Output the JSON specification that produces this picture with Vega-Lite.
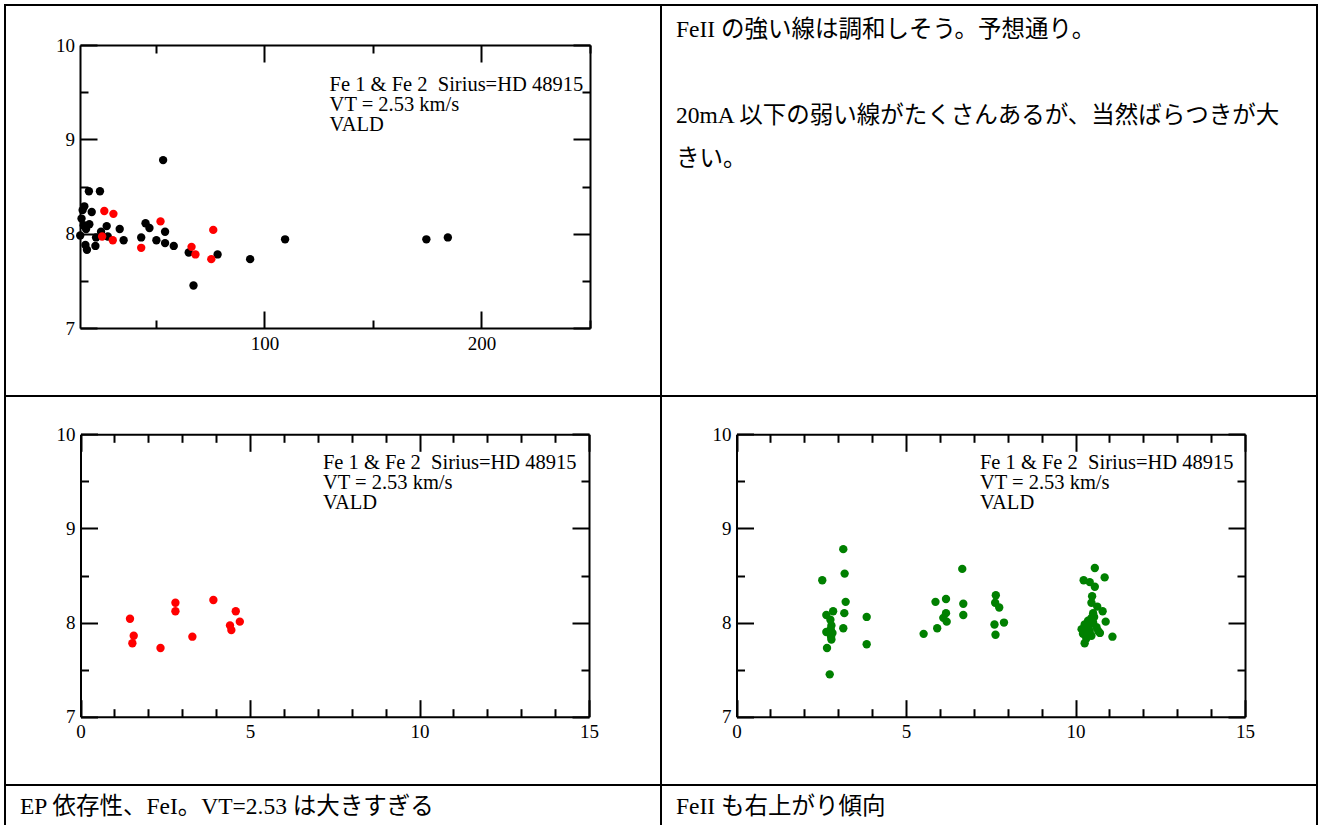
{
  "$schema": "https://vega.github.io/schema/vega-lite/v6.json",
  "padding": {"left": 4, "top": 4, "right": 0, "bottom": 0},
  "background": "white",
  "datasets": {
    "ew": [
      {"ew": 53.3, "abund": 8.78, "ion": "Fe 2"},
      {"ew": 19.1, "abund": 8.45, "ion": "Fe 2"},
      {"ew": 24.2, "abund": 8.45, "ion": "Fe 2"},
      {"ew": 17.0, "abund": 8.29, "ion": "Fe 2"},
      {"ew": 16.2, "abund": 8.25, "ion": "Fe 2"},
      {"ew": 20.4, "abund": 8.23, "ion": "Fe 2"},
      {"ew": 15.7, "abund": 8.16, "ion": "Fe 2"},
      {"ew": 19.3, "abund": 8.10, "ion": "Fe 2"},
      {"ew": 16.7, "abund": 8.09, "ion": "Fe 2"},
      {"ew": 17.8, "abund": 8.05, "ion": "Fe 2"},
      {"ew": 15.1, "abund": 7.98, "ion": "Fe 2"},
      {"ew": 27.3, "abund": 8.08, "ion": "Fe 2"},
      {"ew": 24.7, "abund": 8.02, "ion": "Fe 2"},
      {"ew": 33.3, "abund": 8.05, "ion": "Fe 2"},
      {"ew": 22.4, "abund": 7.96, "ion": "Fe 2"},
      {"ew": 27.8, "abund": 7.97, "ion": "Fe 2"},
      {"ew": 35.1, "abund": 7.93, "ion": "Fe 2"},
      {"ew": 22.1, "abund": 7.87, "ion": "Fe 2"},
      {"ew": 17.5, "abund": 7.88, "ion": "Fe 2"},
      {"ew": 18.2, "abund": 7.83, "ion": "Fe 2"},
      {"ew": 45.2, "abund": 8.11, "ion": "Fe 2"},
      {"ew": 47.0, "abund": 8.06, "ion": "Fe 2"},
      {"ew": 54.2, "abund": 8.02, "ion": "Fe 2"},
      {"ew": 43.2, "abund": 7.96, "ion": "Fe 2"},
      {"ew": 50.2, "abund": 7.93, "ion": "Fe 2"},
      {"ew": 54.2, "abund": 7.90, "ion": "Fe 2"},
      {"ew": 58.2, "abund": 7.87, "ion": "Fe 2"},
      {"ew": 65.1, "abund": 7.80, "ion": "Fe 2"},
      {"ew": 67.3, "abund": 7.45, "ion": "Fe 2"},
      {"ew": 78.4, "abund": 7.78, "ion": "Fe 2"},
      {"ew": 93.4, "abund": 7.73, "ion": "Fe 2"},
      {"ew": 109.5, "abund": 7.94, "ion": "Fe 2"},
      {"ew": 174.6, "abund": 7.94, "ion": "Fe 2"},
      {"ew": 184.5, "abund": 7.96, "ion": "Fe 2"},
      {"ew": 26.2, "abund": 8.24, "ion": "Fe 1"},
      {"ew": 30.4, "abund": 8.21, "ion": "Fe 1"},
      {"ew": 52.1, "abund": 8.13, "ion": "Fe 1"},
      {"ew": 25.2, "abund": 7.97, "ion": "Fe 1"},
      {"ew": 30.1, "abund": 7.93, "ion": "Fe 1"},
      {"ew": 43.2, "abund": 7.85, "ion": "Fe 1"},
      {"ew": 66.4, "abund": 7.86, "ion": "Fe 1"},
      {"ew": 68.2, "abund": 7.78, "ion": "Fe 1"},
      {"ew": 76.4, "abund": 8.04, "ion": "Fe 1"},
      {"ew": 75.5, "abund": 7.73, "ion": "Fe 1"}
    ],
    "fe1ep": [
      {"ep": 1.46, "abund": 8.04},
      {"ep": 1.57, "abund": 7.86},
      {"ep": 1.53, "abund": 7.78},
      {"ep": 2.36, "abund": 7.73},
      {"ep": 2.80, "abund": 8.21},
      {"ep": 2.80, "abund": 8.12},
      {"ep": 3.30, "abund": 7.85},
      {"ep": 3.92, "abund": 8.24},
      {"ep": 4.58, "abund": 8.12},
      {"ep": 4.41, "abund": 7.97},
      {"ep": 4.45, "abund": 7.92},
      {"ep": 4.70, "abund": 8.01}
    ],
    "fe2ep": [
      {"ep": 2.53, "abund": 8.45},
      {"ep": 3.15, "abund": 8.78},
      {"ep": 3.19, "abund": 8.52},
      {"ep": 3.22, "abund": 8.22},
      {"ep": 3.18, "abund": 8.10},
      {"ep": 3.15, "abund": 7.94},
      {"ep": 2.85, "abund": 8.12},
      {"ep": 2.65, "abund": 8.08},
      {"ep": 3.84, "abund": 8.06},
      {"ep": 3.84, "abund": 7.77},
      {"ep": 2.75, "abund": 7.45},
      {"ep": 2.77, "abund": 8.03},
      {"ep": 2.80, "abund": 7.97},
      {"ep": 2.65, "abund": 7.90},
      {"ep": 2.83, "abund": 7.89},
      {"ep": 2.80, "abund": 7.82},
      {"ep": 2.67, "abund": 7.73},
      {"ep": 2.78, "abund": 7.93},
      {"ep": 2.79, "abund": 7.85},
      {"ep": 5.52, "abund": 7.88},
      {"ep": 5.92, "abund": 7.94},
      {"ep": 5.87, "abund": 8.22},
      {"ep": 6.18, "abund": 8.25},
      {"ep": 6.18, "abund": 8.10},
      {"ep": 6.10, "abund": 8.05},
      {"ep": 6.20, "abund": 8.01},
      {"ep": 6.66, "abund": 8.57},
      {"ep": 6.69, "abund": 8.20},
      {"ep": 6.69, "abund": 8.08},
      {"ep": 7.65, "abund": 8.29},
      {"ep": 7.63, "abund": 8.21},
      {"ep": 7.75, "abund": 8.16},
      {"ep": 7.61, "abund": 7.98},
      {"ep": 7.89, "abund": 8.00},
      {"ep": 7.64, "abund": 7.87},
      {"ep": 10.57, "abund": 8.58},
      {"ep": 10.86, "abund": 8.48},
      {"ep": 10.24, "abund": 8.45},
      {"ep": 10.42, "abund": 8.43},
      {"ep": 10.57, "abund": 8.38},
      {"ep": 10.49, "abund": 8.28},
      {"ep": 10.47, "abund": 8.21},
      {"ep": 10.64, "abund": 8.17},
      {"ep": 10.80, "abund": 8.12},
      {"ep": 10.89, "abund": 8.01},
      {"ep": 11.09, "abund": 7.85},
      {"ep": 10.52, "abund": 8.10},
      {"ep": 10.47, "abund": 8.05},
      {"ep": 10.37, "abund": 8.02},
      {"ep": 10.27, "abund": 7.98},
      {"ep": 10.52, "abund": 8.00},
      {"ep": 10.62, "abund": 7.95},
      {"ep": 10.18, "abund": 7.93},
      {"ep": 10.42, "abund": 7.91},
      {"ep": 10.67, "abund": 7.91},
      {"ep": 10.22, "abund": 7.88},
      {"ep": 10.47, "abund": 7.86},
      {"ep": 10.32, "abund": 7.83},
      {"ep": 10.27, "abund": 7.78},
      {"ep": 10.72, "abund": 7.89},
      {"ep": 10.35, "abund": 7.95},
      {"ep": 10.55, "abund": 8.06},
      {"ep": 10.40, "abund": 7.97},
      {"ep": 10.30, "abund": 7.90},
      {"ep": 10.45, "abund": 8.00}
    ],
    "notes": [
      {"line": 1, "text": "FeII の強い線は調和しそう。予想通り。"},
      {"line": 3, "text": "20mA 以下の弱い線がたくさんあるが、当然ばらつきが大"},
      {"line": 4, "text": "きい。"}
    ],
    "capL": [{"text": "EP 依存性、FeI。VT=2.53 は大きすぎる"}],
    "capR": [{"text": "FeII も右上がり傾向"}],
    "one": [{}]
  },
  "columns": 2,
  "spacing": 0,
  "bounds": "flush",
  "align": "each",
  "concat": [
    {
      "width": 656, "height": 391,
      "resolve": {"axis": {"x": "independent", "y": "independent"}},
      "layer": [
        {
          "data": {"name": "ew"},
          "mark": {"type": "circle", "size": 70, "opacity": 1},
          "encoding": {
            "x": {"field": "ew", "type": "quantitative",
              "scale": {"domain": [15, 250], "range": [75, 585], "nice": false, "zero": false},
              "axis": {"orient": "bottom", "offset": -68, "title": null, "values": [50, 100, 150, 200, 250],
                "labelExpr": "datum.value % 100 === 0 ? format(datum.value, 'd') : ''",
                "tickSize": {"condition": {"test": "datum.value % 100 === 0", "value": -17}, "value": -8},
                "labelFont": "Liberation Serif", "labelFontSize": 19, "labelColor": "black",
                "labelPadding": 23, "labelFlush": false, "labelOverlap": false}},
            "y": {"field": "abund", "type": "quantitative",
              "scale": {"domain": [7, 10], "range": [323, 40], "nice": false, "zero": false},
              "axis": {"orient": "left", "offset": -75, "title": null, "values": [7, 7.5, 8, 8.5, 9, 9.5, 10],
                "labelExpr": "datum.value % 1 === 0 ? format(datum.value, 'd') : ''",
                "tickSize": {"condition": {"test": "datum.value % 1 === 0", "value": -17}, "value": -8},
                "labelFont": "Liberation Serif", "labelFontSize": 19, "labelColor": "black",
                "labelPadding": 22.5, "labelFlush": false, "labelOverlap": false}},
            "color": {"field": "ion", "type": "nominal",
              "scale": {"domain": ["Fe 2", "Fe 1"], "range": ["#000000", "#ff0000"]}, "legend": null}
          }
        },
        {
          "data": {"name": "one"},
          "mark": {"type": "text", "text": "Fe 1 & Fe 2\u00a0 Sirius=HD 48915\nVT = 2.53 km/s\nVALD", "lineBreak": "\n",
            "align": "left", "baseline": "top", "font": "Liberation Serif", "fontSize": 20.5, "lineHeight": 20, "color": "black"},
          "encoding": {
            "x": {"datum": 130, "type": "quantitative",
              "axis": {"orient": "top", "offset": -40, "title": null, "labels": false, "values": [50, 100, 150, 200, 250],
                "tickSize": {"condition": {"test": "datum.value % 100 === 0", "value": -17}, "value": -8}}},
            "y": {"datum": 9.68, "type": "quantitative",
              "axis": {"orient": "right", "offset": -71, "title": null, "labels": false, "values": [7, 7.5, 8, 8.5, 9, 9.5, 10],
                "tickSize": {"condition": {"test": "datum.value % 1 === 0", "value": -17}, "value": -8}}}
          }
        }
      ]
    },
    {
      "width": 656, "height": 391,
      "data": {"name": "notes"},
      "mark": {"type": "text", "align": "left", "baseline": "middle", "dx": 15,
        "font": "'Liberation Serif', 'Noto Sans CJK JP'", "fontSize": 23.5, "color": "black"},
      "encoding": {
        "x": {"datum": 0, "type": "quantitative", "scale": {"domain": [0, 1], "nice": false}, "axis": null},
        "y": {"field": "line", "type": "quantitative", "scale": {"domain": [0.407, 9.5], "reverse": true, "nice": false, "zero": false}, "axis": null},
        "text": {"field": "text"}
      }
    },
    {
      "width": 656, "height": 389,
      "resolve": {"axis": {"x": "independent", "y": "independent"}},
      "layer": [
        {
          "data": {"name": "fe1ep"},
          "mark": {"type": "circle", "size": 70, "opacity": 1, "color": "#ff0000"},
          "encoding": {
            "x": {"field": "ep", "type": "quantitative",
              "scale": {"domain": [0, 15], "range": [75.5, 584], "nice": false, "zero": false},
              "axis": {"orient": "bottom", "offset": -68.3, "title": null, "values": [0,1,2,3,4,5,6,7,8,9,10,11,12,13,14,15],
                "labelExpr": "datum.value % 5 === 0 ? format(datum.value, 'd') : ''",
                "tickSize": {"condition": {"test": "datum.value % 5 === 0", "value": -17}, "value": -8},
                "labelFont": "Liberation Serif", "labelFontSize": 19, "labelColor": "black",
                "labelPadding": 23, "labelFlush": false, "labelOverlap": false}},
            "y": {"field": "abund", "type": "quantitative",
              "scale": {"domain": [7, 10], "range": [320.7, 38.3], "nice": false, "zero": false},
              "axis": {"orient": "left", "offset": -75.5, "title": null, "values": [7, 7.5, 8, 8.5, 9, 9.5, 10],
                "labelExpr": "datum.value % 1 === 0 ? format(datum.value, 'd') : ''",
                "tickSize": {"condition": {"test": "datum.value % 1 === 0", "value": -17}, "value": -8},
                "labelFont": "Liberation Serif", "labelFontSize": 19, "labelColor": "black",
                "labelPadding": 22.5, "labelFlush": false, "labelOverlap": false}}
          }
        },
        {
          "data": {"name": "one"},
          "mark": {"type": "text", "text": "Fe 1 & Fe 2\u00a0 Sirius=HD 48915\nVT = 2.53 km/s\nVALD", "lineBreak": "\n",
            "align": "left", "baseline": "top", "font": "Liberation Serif", "fontSize": 20.5, "lineHeight": 20, "color": "black"},
          "encoding": {
            "x": {"datum": 7.15, "type": "quantitative",
              "axis": {"orient": "top", "offset": -38.3, "title": null, "labels": false, "values": [0,1,2,3,4,5,6,7,8,9,10,11,12,13,14,15],
                "tickSize": {"condition": {"test": "datum.value % 5 === 0", "value": -17}, "value": -8}}},
            "y": {"datum": 9.8, "type": "quantitative",
              "axis": {"orient": "right", "offset": -72, "title": null, "labels": false, "values": [7, 7.5, 8, 8.5, 9, 9.5, 10],
                "tickSize": {"condition": {"test": "datum.value % 1 === 0", "value": -17}, "value": -8}}}
          }
        }
      ]
    },
    {
      "width": 656, "height": 389,
      "resolve": {"axis": {"x": "independent", "y": "independent"}},
      "layer": [
        {
          "data": {"name": "fe2ep"},
          "mark": {"type": "circle", "size": 70, "opacity": 1, "color": "#008000"},
          "encoding": {
            "x": {"field": "ep", "type": "quantitative",
              "scale": {"domain": [0, 15], "range": [75.5, 584], "nice": false, "zero": false},
              "axis": {"orient": "bottom", "offset": -68.3, "title": null, "values": [0,1,2,3,4,5,6,7,8,9,10,11,12,13,14,15],
                "labelExpr": "datum.value % 5 === 0 ? format(datum.value, 'd') : ''",
                "tickSize": {"condition": {"test": "datum.value % 5 === 0", "value": -17}, "value": -8},
                "labelFont": "Liberation Serif", "labelFontSize": 19, "labelColor": "black",
                "labelPadding": 23, "labelFlush": false, "labelOverlap": false}},
            "y": {"field": "abund", "type": "quantitative",
              "scale": {"domain": [7, 10], "range": [320.7, 38.3], "nice": false, "zero": false},
              "axis": {"orient": "left", "offset": -75.5, "title": null, "values": [7, 7.5, 8, 8.5, 9, 9.5, 10],
                "labelExpr": "datum.value % 1 === 0 ? format(datum.value, 'd') : ''",
                "tickSize": {"condition": {"test": "datum.value % 1 === 0", "value": -17}, "value": -8},
                "labelFont": "Liberation Serif", "labelFontSize": 19, "labelColor": "black",
                "labelPadding": 22.5, "labelFlush": false, "labelOverlap": false}}
          }
        },
        {
          "data": {"name": "one"},
          "mark": {"type": "text", "text": "Fe 1 & Fe 2\u00a0 Sirius=HD 48915\nVT = 2.53 km/s\nVALD", "lineBreak": "\n",
            "align": "left", "baseline": "top", "font": "Liberation Serif", "fontSize": 20.5, "lineHeight": 20, "color": "black"},
          "encoding": {
            "x": {"datum": 7.18, "type": "quantitative",
              "axis": {"orient": "top", "offset": -38.3, "title": null, "labels": false, "values": [0,1,2,3,4,5,6,7,8,9,10,11,12,13,14,15],
                "tickSize": {"condition": {"test": "datum.value % 5 === 0", "value": -17}, "value": -8}}},
            "y": {"datum": 9.8, "type": "quantitative",
              "axis": {"orient": "right", "offset": -72, "title": null, "labels": false, "values": [7, 7.5, 8, 8.5, 9, 9.5, 10],
                "tickSize": {"condition": {"test": "datum.value % 1 === 0", "value": -17}, "value": -8}}}
          }
        }
      ]
    },
    {
      "width": 656, "height": 40,
      "view": {"stroke": null},
      "data": {"name": "capL"},
      "layer": [
        {"mark": {"type": "rule", "color": "black", "strokeWidth": 2},
         "encoding": {"x": {"datum": 0, "type": "quantitative", "scale": {"domain": [0, 1], "nice": false}, "axis": null}}},
        {"mark": {"type": "rule", "color": "black", "strokeWidth": 2},
         "encoding": {"x": {"datum": 1, "type": "quantitative", "axis": null}}},
        {"mark": {"type": "text", "align": "left", "baseline": "middle", "dx": 15, "dy": 2,
           "font": "'Liberation Serif', 'Noto Sans CJK JP'", "fontSize": 23.5, "color": "black"},
         "encoding": {"x": {"datum": 0, "type": "quantitative", "axis": null}, "text": {"field": "text"}}}
      ]
    },
    {
      "width": 656, "height": 40,
      "view": {"stroke": null},
      "data": {"name": "capR"},
      "layer": [
        {"mark": {"type": "rule", "color": "black", "strokeWidth": 2},
         "encoding": {"x": {"datum": 0, "type": "quantitative", "scale": {"domain": [0, 1], "nice": false}, "axis": null}}},
        {"mark": {"type": "rule", "color": "black", "strokeWidth": 2},
         "encoding": {"x": {"datum": 1, "type": "quantitative", "axis": null}}},
        {"mark": {"type": "text", "align": "left", "baseline": "middle", "dx": 15, "dy": 2,
           "font": "'Liberation Serif', 'Noto Sans CJK JP'", "fontSize": 23.5, "color": "black"},
         "encoding": {"x": {"datum": 0, "type": "quantitative", "axis": null}, "text": {"field": "text"}}}
      ]
    }
  ],
  "config": {
    "view": {"stroke": "black", "strokeWidth": 2},
    "axis": {"domainColor": "black", "domainWidth": 2, "tickColor": "black", "tickWidth": 2,
      "labelFont": "Liberation Serif", "labelFontSize": 19, "labelColor": "black", "grid": false}
  }
}
